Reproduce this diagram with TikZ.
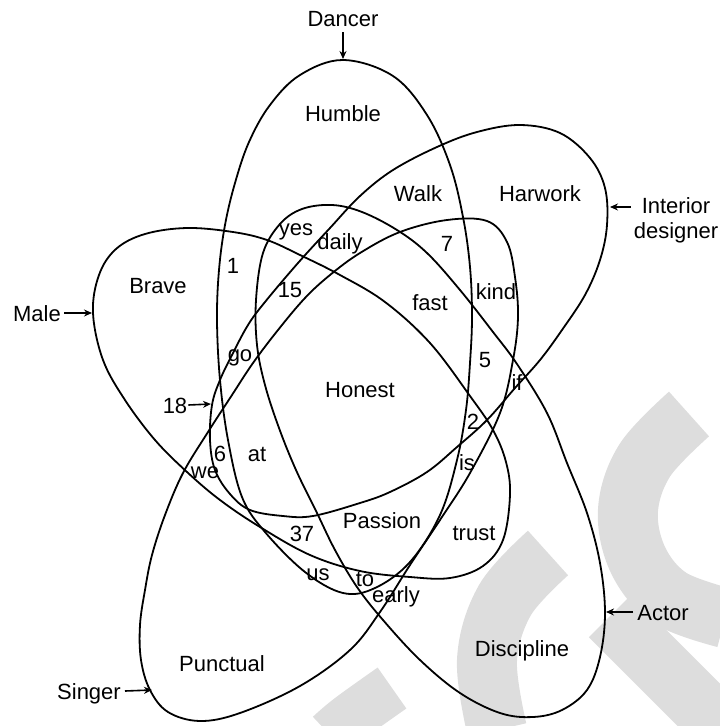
\documentclass[tikz,border=0pt]{standalone}
\usepackage{fontspec}
\setmainfont{Liberation Sans}
\usetikzlibrary{arrows.meta}
\definecolor{wmgray}{RGB}{221,221,221}
\begin{document}
\begin{tikzpicture}[x=1pt,y=-1pt,
  setline/.style={line width=1.8pt, line join=round},
  lbl/.style={inner sep=0pt, font=\fontsize{22}{25}\selectfont, text height=16pt, text depth=0pt},
  arr/.style={line width=1.6pt, -{Stealth[length=8pt,width=7pt]}},
  wm/.style={draw=wmgray, line width=60pt, line cap=butt}
]
\useasboundingbox (0,0) rectangle (720,726);
% watermark
\draw[wm] plot[smooth, tension=0.6] coordinates {(689,414) (645,460) (628,510) (638,560) (670,598) (725,618)};
\draw[wm] plot[smooth, tension=0.6] coordinates {(548,553) (505,600) (487,660) (497,730)};
\draw[wm] plot[smooth, tension=0.6] coordinates {(610,616) (660,666) (725,731)};
\draw[wm, line width=50pt] plot[smooth, tension=0.6] coordinates {(392,688) (350,718) (330,735)};

% Dancer
\draw[setline] plot[smooth cycle, tension=0.6] coordinates {(343,60) (393,76) (427,115) (450,165) (463,217) (470,267) (472,317) (470,363) (466,410) (457,460) (440,515) (410,562) (375,588) (343,593) (305,572) (265,532) (242,497) (228,440) (220,380) (217,320) (219,270) (225,225) (235,183) (249,142) (270,105) (300,75)};
% Male
\draw[setline] plot[smooth cycle, tension=0.6] coordinates {(93,313) (99,275) (116,249) (145,234) (187,228) (233,232) (267,240) (300,255) (340,275) (385,302) (430,343) (470,396) (493,430) (506,462) (510,495) (503,540) (483,566) (450,578) (410,577) (360,571) (310,555) (260,527) (220,500) (187,472) (155,440) (125,400) (103,360)};
% Interior designer
\draw[setline] plot[smooth cycle, tension=0.6] coordinates {(520,125) (560,133) (590,158) (605,188) (607,225) (600,260) (585,295) (562,330) (540,360) (515,388) (487,420) (457,447) (427,472) (390,492) (360,503) (313,516) (283,516) (250,510) (230,494) (215,470) (210,440) (212,405) (220,380) (232,355) (248,325) (265,302) (298,263) (330,228) (360,196) (393,170) (437,147) (477,132)};
% Actor
\draw[setline] plot[smooth cycle, tension=0.6] coordinates {(332,205) (362,212) (397,230) (427,253) (460,290) (493,332) (517,364) (547,413) (567,463) (587,513) (600,563) (605,613) (600,657) (587,690) (562,710) (533,717) (500,713) (460,693) (420,660) (383,620) (357,587) (335,550) (317,513) (296,470) (279,428) (265,385) (257,345) (256,300) (263,253) (280,224) (302,209)};
% Singer
\draw[setline] plot[smooth cycle, tension=0.6] coordinates {(447,220) (487,221) (507,242) (515,277) (518,317) (513,360) (500,413) (470,473) (440,520) (410,565) (380,612) (350,650) (300,686) (240,713) (200,721) (168,712) (150,690) (141,660) (140,625) (145,590) (152,555) (165,515) (183,473) (208,432) (232,395) (253,363) (278,330) (305,298) (330,275) (360,253) (400,232)};

% labels with arrows
\node[lbl] (dancer) at (343,18) {Dancer};
\coordinate (dancertip) at (343,59);
\draw[arr] (dancer.south) ++(0,6) -- (dancertip);
\node[lbl] (male) at (37,313) {Male};
\coordinate (maletip) at (92,313);
\draw[arr] (male.east) ++(3,0) -- (maletip);
\node[lbl] (n18) at (175,405) {18};
\coordinate (n18tip) at (211,404);
\draw[arr] (n18.east) ++(1,0) -- (n18tip);
\node[inner sep=0pt, font=\fontsize{22}{25}\selectfont, align=center] (interior) at (676,220) {Interior\\designer};
\coordinate (interiortip) at (610,207);
\draw[arr] (interior.west |- interiortip) ++(-3,0) -- (interiortip);
\node[lbl] (actor) at (663,612) {Actor};
\coordinate (actortip) at (606,612);
\draw[arr] (actor.west) ++(-4,0) -- (actortip);
\node[lbl] (singer) at (89,691) {Singer};
\coordinate (singertip) at (152,690);
\draw[arr] (singer.east) ++(4,0) -- (singertip);

% region labels
\node[lbl] (humble) at (343,113) {Humble};
\node[lbl] (walk) at (418,193) {Walk};
\node[lbl] (harwork) at (540,193) {Harwork};
\node[lbl] (yes) at (296,227) {yes};
\node[lbl] (daily) at (340,241) {daily};
\node[lbl] (seven) at (447,243) {7};
\node[lbl] (one) at (233,265) {1};
\node[lbl] (brave) at (158,285) {Brave};
\node[lbl] (fifteen) at (290,289) {15};
\node[lbl] (fast) at (430,302) {fast};
\node[lbl] (kind) at (496,291) {kind};
\node[lbl] (go) at (240,353) {go};
\node[lbl] (five) at (485,359) {5};
\node[lbl] (iff) at (517,382) {if};
\node[lbl] (honest) at (360,389) {Honest};
\node[lbl] (two) at (473,421) {2};
\node[lbl] (six) at (220,453) {6};
\node[lbl] (at) at (257,453) {at};
\node[lbl] (we) at (205,470) {we};
\node[lbl] (is) at (467,462) {is};
\node[lbl] (passion) at (382,520) {Passion};
\node[lbl] (n37) at (302,533) {37};
\node[lbl] (trust) at (474,532) {trust};
\node[lbl] (us) at (318,572) {us};
\node[lbl] (to) at (365,578) {to};
\node[lbl] (early) at (396,594) {early};
\node[lbl] (discipline) at (522,648) {Discipline};
\node[lbl] (punctual) at (222,663) {Punctual};
\end{tikzpicture}
\end{document}
